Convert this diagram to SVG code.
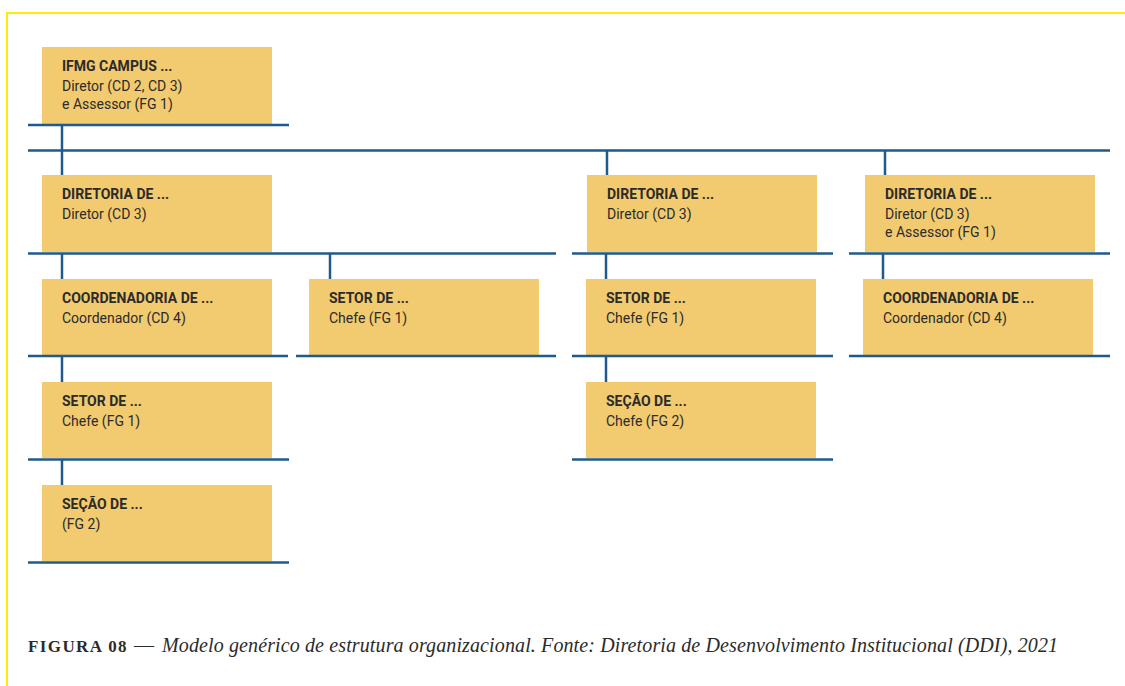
<svg xmlns="http://www.w3.org/2000/svg" width="1125" height="686" viewBox="0 0 1125 686">
<style>
.box{fill:#F2CA70}
.t{font-family:Roboto,"Liberation Sans",sans-serif;font-size:14px;font-weight:bold;fill:#2B2B2B}
.b{font-family:Roboto,"Liberation Sans",sans-serif;font-size:14px;fill:#2B2B2B}
.ln{stroke:#1F5A8A;stroke-width:2.5;fill:none}
.cap{font-family:"Liberation Serif",serif;fill:#2B2B2B}
</style>
<rect width="1125" height="686" fill="#FFFFFF"/>
<path d="M7 686 V13 H1125" fill="none" stroke="#FFEC00" stroke-width="2"/>
<g id="n1"><rect class="box" x="42" y="47" width="230" height="77"/><text class="t" x="62" y="71">IFMG CAMPUS ...</text><text class="b" x="62" y="91">Diretor (CD 2, CD 3)</text><text class="b" x="62" y="109">e Assessor (FG 1)</text></g>
<g id="n2"><rect class="box" x="42" y="175" width="230" height="77"/><text class="t" x="62" y="199">DIRETORIA DE ...</text><text class="b" x="62" y="219">Diretor (CD 3)</text></g>
<g id="n3"><rect class="box" x="587" y="175" width="230" height="77"/><text class="t" x="607" y="199">DIRETORIA DE ...</text><text class="b" x="607" y="219">Diretor (CD 3)</text></g>
<g id="n4"><rect class="box" x="865" y="175" width="230" height="77"/><text class="t" x="885" y="199">DIRETORIA DE ...</text><text class="b" x="885" y="219">Diretor (CD 3)</text><text class="b" x="885" y="237">e Assessor (FG 1)</text></g>
<g id="n5"><rect class="box" x="42" y="279" width="230" height="76"/><text class="t" x="62" y="303">COORDENADORIA DE ...</text><text class="b" x="62" y="323">Coordenador (CD 4)</text></g>
<g id="n6"><rect class="box" x="309" y="279" width="230" height="76"/><text class="t" x="329" y="303">SETOR DE ...</text><text class="b" x="329" y="323">Chefe (FG 1)</text></g>
<g id="n7"><rect class="box" x="586" y="279" width="230" height="76"/><text class="t" x="606" y="303">SETOR DE ...</text><text class="b" x="606" y="323">Chefe (FG 1)</text></g>
<g id="n8"><rect class="box" x="863" y="279" width="230" height="76"/><text class="t" x="883" y="303">COORDENADORIA DE ...</text><text class="b" x="883" y="323">Coordenador (CD 4)</text></g>
<g id="n9"><rect class="box" x="42" y="382" width="230" height="76"/><text class="t" x="62" y="406">SETOR DE ...</text><text class="b" x="62" y="426">Chefe (FG 1)</text></g>
<g id="n10"><rect class="box" x="586" y="382" width="230" height="76"/><text class="t" x="606" y="406">SEÇÃO DE ...</text><text class="b" x="606" y="426">Chefe (FG 2)</text></g>
<g id="n11"><rect class="box" x="42" y="485" width="230" height="76"/><text class="t" x="62" y="509">SEÇÃO DE ...</text><text class="b" x="62" y="529">(FG 2)</text></g>
<g id="connectors" class="ln">
<path d="M28 125 H289"/>
<path d="M28 150.5 H1110"/>
<path d="M62 125 V175"/>
<path d="M607 150.5 V175"/>
<path d="M885 150.5 V175"/>
<path d="M28 253.5 H556"/>
<path d="M572 253.5 H833"/>
<path d="M849 253.5 H1110"/>
<path d="M62 253.5 V279"/>
<path d="M330 253.5 V279"/>
<path d="M606 253.5 V279"/>
<path d="M883 253.5 V279"/>
<path d="M28 356 H288"/>
<path d="M296 356 H556"/>
<path d="M572 356 H833"/>
<path d="M849 356 H1110"/>
<path d="M62 356 V382"/>
<path d="M606 356 V382"/>
<path d="M28 459.5 H289"/>
<path d="M572 459.5 H833"/>
<path d="M62 459.5 V485"/>
<path d="M28 562.5 H289"/>
</g>
<g id="caption">
<text class="cap" x="28" y="652" style="font-size:17px;font-weight:bold;letter-spacing:1.4px">FIGURA 08</text>
<text class="cap" x="134" y="652" style="font-size:20px">—</text>
<text class="cap" x="162" y="652" style="font-size:20px;font-style:italic" textLength="896" lengthAdjust="spacing">Modelo genérico de estrutura organizacional. Fonte: Diretoria de Desenvolvimento Institucional (DDI), 2021</text>
</g>
</svg>
